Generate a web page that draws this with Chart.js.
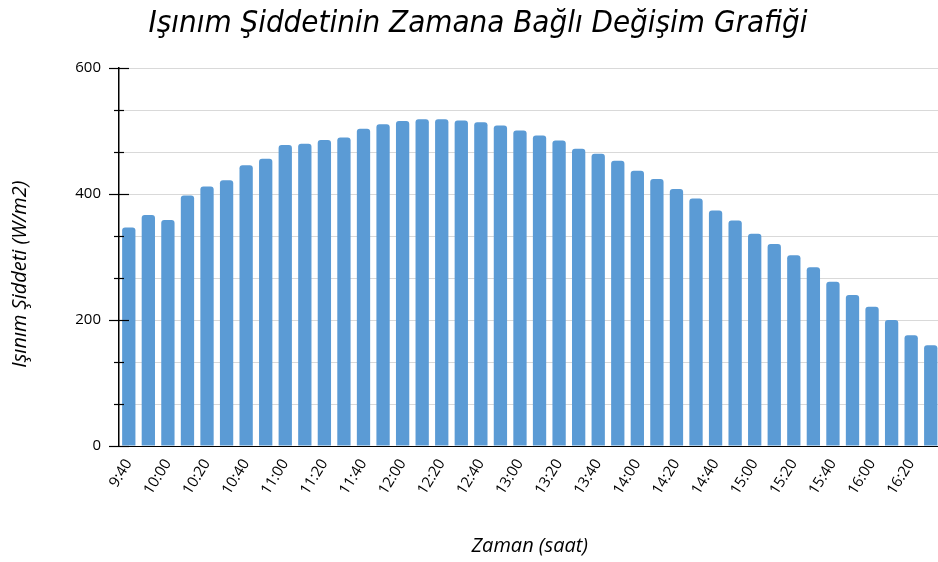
<!DOCTYPE html>
<html>
<head>
<meta charset="utf-8">
<script src="https://cdn.jsdelivr.net/npm/chart.js@4"></script>
<style>
    html, body { margin: 0; padding: 0; background: #fff; overflow: hidden; }
    #wrap { width: 956px; height: 562px; }
</style>
</head>
<body>
<div id="wrap"><canvas id="irradianceChart"></canvas></div>
<script>
// saat etiketleri (10 dakikada bir)
var timeLabels = [
    "9:40", "9:50", "10:00", "10:10", "10:20", "10:30", "10:40", "10:50",
    "11:00", "11:10", "11:20", "11:30", "11:40", "11:50", "12:00", "12:10",
    "12:20", "12:30", "12:40", "12:50", "13:00", "13:10", "13:20", "13:30",
    "13:40", "13:50", "14:00", "14:10", "14:20", "14:30", "14:40", "14:50",
    "15:00", "15:10", "15:20", "15:30", "15:40", "15:50", "16:00", "16:10",
    "16:20", "16:30"
];

// ışınım şiddeti (W/m2)
var irradiance = [
    347, 367, 359, 398, 412, 422, 446, 456,
    478, 480, 486, 490, 504, 511, 516, 519,
    519, 517, 514, 509, 501, 493, 485, 472,
    464, 453, 437, 424, 408, 393, 374, 358,
    337, 321, 303, 284, 261, 240, 221, 200,
    176, 160
];

var yMin = 0;
var yMax = 600;
var yLabelStep = 200;
var yGridStep = 200 / 3;

var titleText = "Işınım Şiddetinin Zamana Bağlı Değişim Grafiği";
var xTitleText = "Zaman (saat)";
var yTitleText = "Işınım Şiddeti (W/m2)";

var axisFont = "'Open Sans', sans-serif";

function isMajor(value) {
    var r = value / yLabelStep;
    return Math.abs(r - Math.round(r)) < 1e-6;
}

// y ekseni üzerindeki küçük/büyük çentikler + eksen başlığı
var axisTickPlugin = {
    id: "axisTicks",
    afterDraw: function (chart) {
        var ctx = chart.ctx;
        var yScale = chart.scales.y;
        var x = yScale.right;
        ctx.save();
        ctx.strokeStyle = "#000";
        ctx.lineWidth = 1.2;
        yScale.ticks.forEach(function (tick) {
            var y = Math.round(yScale.getPixelForValue(tick.value)) + 0.5;
            var len = isMajor(tick.value) ? 10 : 5;
            ctx.beginPath();
            ctx.moveTo(x - len, y);
            ctx.lineTo(x + len, y);
            ctx.stroke();
        });

        // dikey eksen başlığı (Excel'deki gibi biraz aşağıda)
        var midY = (yScale.top + yScale.bottom) / 2 + 17;
        ctx.translate(20, midY);
        ctx.rotate(-Math.PI / 2);
        ctx.font = "italic 20px " + axisFont;
        ctx.fillStyle = "#000";
        ctx.textAlign = "center";
        ctx.textBaseline = "middle";
        ctx.fillText(yTitleText, 0, 0);
        ctx.restore();
    }
};

function createBarChart(canvasId) {
    var ctx = document.getElementById(canvasId).getContext("2d");
    return new Chart(ctx, {
        type: "bar",
        data: {
            labels: timeLabels,
            datasets: [{
                label: "Işınım Şiddeti",
                data: irradiance,
                backgroundColor: "#5b9bd5",
                borderRadius: { topLeft: 3, topRight: 3 },
                borderSkipped: "bottom",
                barPercentage: 0.68,
                categoryPercentage: 1.0
            }]
        },
        options: {
            responsive: true,
            maintainAspectRatio: false,
            animation: false,
            layout: { padding: 0 },
            plugins: {
                legend: { display: false },
                tooltip: { enabled: false },
                title: {
                    display: true,
                    text: titleText,
                    color: "#000",
                    font: { family: "'Liberation Sans Narrow', 'DejaVu Sans Condensed', sans-serif", size: 31, style: "italic", weight: "normal" },
                    padding: { top: 5, bottom: 26 }
                }
            },
            scales: {
                x: {
                    grid: { display: false, drawTicks: false },
                    border: { display: true, color: "#000", width: 1 },
                    ticks: {
                        autoSkip: false,
                        maxRotation: 58,
                        minRotation: 58,
                        padding: 10,
                        color: "#000",
                        font: { family: axisFont, size: 15 },
                        callback: function (value, index) {
                            return index % 2 === 0 ? timeLabels[index] : "";
                        }
                    },
                    title: {
                        display: true,
                        text: xTitleText,
                        color: "#000",
                        font: { family: axisFont, size: 20, style: "italic" },
                        padding: { top: 0, bottom: 4 }
                    },
                    afterFit: function (scale) {
                        scale.height = 116;
                    }
                },
                y: {
                    min: yMin,
                    max: yMax,
                    grid: { color: "#d9d9d9", lineWidth: 1, drawTicks: false },
                    border: { display: true, color: "#000", width: 1.5 },
                    ticks: {
                        stepSize: yGridStep,
                        padding: 18,
                        color: "#000",
                        font: { family: axisFont, size: 15 },
                        callback: function (value) {
                            return isMajor(value) ? Math.round(value) : "";
                        }
                    },
                    afterFit: function (scale) {
                        scale.width = 119;
                    }
                }
            }
        },
        plugins: [axisTickPlugin]
    });
}

var irradianceChart = createBarChart("irradianceChart");
</script>
</body>
</html>
